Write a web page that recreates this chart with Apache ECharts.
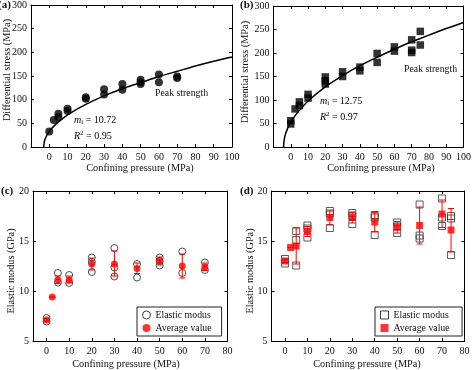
<!DOCTYPE html>
<html>
<head>
<meta charset="utf-8">
<script src="https://cdn.jsdelivr.net/npm/echarts@6/dist/echarts.min.js"></script>
<style>html,body{margin:0;padding:0;background:#fff}#c{width:474px;height:370px}</style>
</head>
<body>
<div id="c"></div>
<script>
// ---------- data ----------
// (a) peak strength, circles
const aPressure = [0, 2.5, 5, 5, 10, 10, 20, 20, 30, 30, 40, 40, 50, 50, 50, 60, 60, 70, 70];
const aStress   = [33, 57, 63, 70, 76, 81, 102, 105, 122, 111, 133, 121, 142, 137, 133, 153, 137, 149, 146];
const aCurveX = [-3.05, -2.8, -2.5, -2, -1, 0, 2, 5, 10, 20, 30, 40, 50, 60, 70, 80, 90, 100];
const aCurveY = [0, 9, 14, 19, 27, 33, 42, 53, 68, 90, 108, 123, 136, 149, 160, 171, 181, 190];
// (b) peak strength, squares
const bPressure = [0, 0, 2.5, 5, 5, 10, 10, 20, 20, 20, 30, 30, 40, 40, 50, 50, 60, 60, 70, 70, 70, 75, 75];
const bStress   = [56, 49, 81, 96, 88, 112, 104, 149, 141, 134, 160, 150, 170, 162, 199, 180, 213, 204, 228, 206, 201, 246, 217];
const bCurveX = [-4.15, -4, -3.5, -3, -2, -1, 0, 2, 5, 10, 20, 30, 40, 50, 60, 70, 80, 90, 100];
const bCurveY = [0, 10, 21, 28, 38, 46, 53, 64, 78, 98, 128, 152, 173, 191, 208, 224, 238, 252, 265];
// (c) elastic modulus, circles
const cPressure = [0, 0, 5, 5, 10, 10, 20, 20, 20, 30, 30, 30, 40, 40, 50, 50, 50, 60, 60, 70, 70];
const cModulus  = [7.3, 6.95, 11.8, 10.85, 11.6, 10.8, 13.35, 12.9, 11.9, 14.3, 12.35, 11.45, 12.7, 11.35, 13.35, 13.0, 12.55, 13.95, 11.8, 12.85, 12.1];
const cAvgPressure = [0, 2.5, 5, 10, 20, 30, 40, 50, 60, 70];
const cAvg     = [7.1, 9.4, 11.1, 11.1, 12.7, 12.7, 12.25, 13.0, 12.5, 12.4];
const cErrLow  = [6.95, 9.4, 10.75, 10.8, 12.1, 11.5, 11.75, 12.6, 11.3, 12.05];
const cErrHigh = [7.25, 9.4, 11.5, 11.5, 13.3, 14.0, 12.8, 13.4, 13.7, 12.8];
// (d) elastic modulus, squares
const dPressure = [0, 0, 5, 5, 5, 10, 10, 10, 20, 20, 20, 30, 30, 30, 40, 40, 40, 50, 50, 50, 60, 60, 60, 70, 70, 70, 74, 74, 74];
const dModulus  = [13.2, 12.75, 16.0, 15.1, 12.55, 16.55, 16.25, 15.35, 18.0, 17.75, 16.3, 17.8, 17.5, 16.7, 17.6, 17.35, 15.6, 16.85, 16.45, 15.8, 18.65, 15.55, 15.25, 19.25, 17.35, 16.5, 17.5, 17.25, 13.6];
const dAvgPressure = [0, 2.5, 5, 10, 20, 30, 40, 50, 60, 70, 74];
const dAvg     = [13.0, 14.35, 14.5, 15.95, 17.35, 17.4, 16.9, 16.4, 16.55, 17.7, 16.1];
const dErrLow  = [12.8, 14.35, 12.7, 15.45, 16.6, 16.8, 15.9, 15.8, 14.7, 16.35, 13.9];
const dErrHigh = [13.2, 14.35, 16.3, 16.45, 18.0, 17.9, 17.85, 16.95, 18.4, 19.1, 18.25];
// tick labels
const ticksAB = [0, 10, 20, 30, 40, 50, 60, 70, 80, 90, 100];
const ticksCD = [0, 10, 20, 30, 40, 50, 60, 70, 80];

// ---------- chart ----------
const FF = "'Liberation Serif', 'DejaVu Serif', serif";
const zip = (xs, ys) => xs.map((x, i) => [x, ys[i]]);
const grids = [
  {left: 31, top: 5, width: 201, height: 142},
  {left: 273.5, top: 6, width: 192.5, height: 141},
  {left: 33, top: 191, width: 194.5, height: 150},
  {left: 271.5, top: 191, width: 193, height: 150}
];
const xAxes = [], yAxes = [];
function addAxes(gi, xmin, xmax, xt, ymin, ymax, yint) {
  const line = {onZero: false, lineStyle: {color: '#000', width: 1}};
  const tick = {inside: true, length: 3, lineStyle: {color: '#000'}};
  xAxes.push({gridIndex: gi, type: 'value', min: xmin, max: xmax, position: 'bottom',
    axisLine: line, axisTick: Object.assign({customValues: xt}, tick),
    axisLabel: {customValues: xt, fontFamily: FF, fontSize: 10, color: '#111', margin: 5},
    splitLine: {show: false}});
  xAxes.push({gridIndex: gi, type: 'value', min: xmin, max: xmax, position: 'top',
    axisLine: line, axisTick: Object.assign({customValues: xt}, tick),
    axisLabel: {show: false}, splitLine: {show: false}});
  yAxes.push({gridIndex: gi, type: 'value', min: ymin, max: ymax, interval: yint, position: 'left',
    axisLine: line, axisTick: tick,
    axisLabel: {fontFamily: FF, fontSize: 10, color: '#111', margin: 4},
    splitLine: {show: false}});
  yAxes.push({gridIndex: gi, type: 'value', min: ymin, max: ymax, interval: yint, position: 'right',
    axisLine: line, axisTick: tick, axisLabel: {show: false}, splitLine: {show: false}});
}
addAxes(0, -10, 100, ticksAB, 0, 300, 50);
addAxes(1, -10, 100, ticksAB, 0, 300, 50);
addAxes(2, -6, 80, ticksCD, 5, 20, 5);
addAxes(3, -6, 80, ticksCD, 5, 20, 5);

function errSeries(gi, xs, lo, hi) {
  return {type: 'custom', xAxisIndex: gi * 2, yAxisIndex: gi * 2, z: 3,
    data: xs.map((x, i) => [x, lo[i], hi[i]]),
    renderItem: function (params, api) {
      const a = api.coord([api.value(0), api.value(1)]);
      const b = api.coord([api.value(0), api.value(2)]);
      const st = {stroke: '#f00', lineWidth: 1};
      return {type: 'group', children: [
        {type: 'line', shape: {x1: a[0], y1: a[1], x2: b[0], y2: b[1]}, style: st},
        {type: 'line', shape: {x1: a[0] - 3, y1: a[1], x2: a[0] + 3, y2: a[1]}, style: st},
        {type: 'line', shape: {x1: b[0] - 3, y1: b[1], x2: b[0] + 3, y2: b[1]}, style: st}
      ]};
    }};
}

const txt = {fontFamily: FF, fill: '#111'};
function gtext(x, y, s, extra) {
  return {type: 'text', x: x, y: y, style: Object.assign({text: s, fontSize: 10.3, textVerticalAlign: 'middle', textAlign: 'left'}, txt, extra || {})};
}
function rot(x, y, s) {
  return {type: 'text', x: x, y: y, rotation: Math.PI / 2,
    style: Object.assign({text: s, fontSize: 10.3, textAlign: 'center', textVerticalAlign: 'middle'}, txt)};
}
const richMI = {
  it: {fontFamily: FF, fontSize: 10, fontStyle: 'italic', color: '#111'},
  sub: {fontFamily: FF, fontSize: 7, color: '#111', verticalAlign: 'bottom', padding: [5, 0, 0, 0]},
  sup: {fontFamily: FF, fontSize: 7, color: '#111', verticalAlign: 'top', padding: [0, 0, 5, 0]},
  n: {fontFamily: FF, fontSize: 10, color: '#111'}
};
function rtext(x, y, s) {
  return {type: 'text', x: x, y: y, style: {text: s, rich: richMI, textVerticalAlign: 'middle', textAlign: 'left'}};
}

const legendCommon = {orient: 'vertical', borderColor: '#222', borderWidth: 1, padding: [3, 10, 3, 5],
  itemWidth: 8, itemHeight: 8, itemGap: 3, backgroundColor: '#fff', selectedMode: false,
  textStyle: {fontFamily: FF, fontSize: 9.8, color: '#111'}};

const option = {
  backgroundColor: '#fff',
  animation: false,
  grid: grids,
  xAxis: xAxes,
  yAxis: yAxes,
  legend: [
    Object.assign({left: 137, top: 307, data: [
      {name: 'Elastic modus', icon: 'circle', itemStyle: {color: '#fff', borderColor: '#111', borderWidth: 1}},
      {name: 'Average value', icon: 'circle', itemStyle: {color: '#f00'}}]}, legendCommon),
    Object.assign({left: 375, top: 307, data: [
      {name: 'Elastic modus ', icon: 'rect', itemStyle: {color: '#fff', borderColor: '#111', borderWidth: 1}},
      {name: 'Average value ', icon: 'rect', itemStyle: {color: '#f00'}}]}, legendCommon)
  ],
  series: [
    {type: 'line', xAxisIndex: 0, yAxisIndex: 0, data: zip(aCurveX, aCurveY), smooth: 0.3, showSymbol: false,
      lineStyle: {color: '#000', width: 1.5}, clip: true, z: 2},
    {type: 'scatter', xAxisIndex: 0, yAxisIndex: 0, data: zip(aPressure, aStress), symbol: 'circle', symbolSize: 8,
      itemStyle: {color: '#000'}, z: 3},
    {type: 'line', xAxisIndex: 2, yAxisIndex: 2, data: zip(bCurveX, bCurveY), smooth: 0.3, showSymbol: false,
      lineStyle: {color: '#000', width: 1.5}, clip: true, z: 2},
    {type: 'scatter', xAxisIndex: 2, yAxisIndex: 2, data: zip(bPressure, bStress), symbol: 'rect', symbolSize: 7.5,
      itemStyle: {color: '#000'}, z: 3},
    {name: 'Elastic modus', type: 'scatter', xAxisIndex: 4, yAxisIndex: 4, data: zip(cPressure, cModulus),
      symbol: 'circle', symbolSize: 7, itemStyle: {color: 'rgba(255,255,255,0)', borderColor: '#222', borderWidth: 1}, z: 2},
    errSeries(2, cAvgPressure, cErrLow, cErrHigh),
    {name: 'Average value', type: 'scatter', xAxisIndex: 4, yAxisIndex: 4, data: zip(cAvgPressure, cAvg),
      symbol: 'circle', symbolSize: 7, itemStyle: {color: '#f00'}, z: 4},
    {name: 'Elastic modus ', type: 'scatter', xAxisIndex: 6, yAxisIndex: 6, data: zip(dPressure, dModulus),
      symbol: 'rect', symbolSize: 7, itemStyle: {color: 'rgba(255,255,255,0)', borderColor: '#333', borderWidth: 1}, z: 2},
    errSeries(3, dAvgPressure, dErrLow, dErrHigh),
    {name: 'Average value ', type: 'scatter', xAxisIndex: 6, yAxisIndex: 6, data: zip(dAvgPressure, dAvg),
      symbol: 'rect', symbolSize: 7, itemStyle: {color: '#f00'}, z: 4}
  ],
  graphic: [
    gtext(-2, 5, '(a)', {fontWeight: 'bold', fontSize: 11}),
    gtext(240, 5, '(b)', {fontWeight: 'bold', fontSize: 11}),
    gtext(1, 191, '(c)', {fontWeight: 'bold', fontSize: 11}),
    gtext(240, 191, '(d)', {fontWeight: 'bold', fontSize: 11}),
    rot(7, 70, 'Differential stress (MPa)'),
    rot(245, 72, 'Differential stress (MPa)'),
    rot(11, 271, 'Elastic modus (GPa)'),
    rot(250, 271, 'Elastic modus (GPa)'),
    gtext(140, 168, 'Confining pressure (MPa)', {textAlign: 'center'}),
    gtext(381, 168, 'Confining pressure (MPa)', {textAlign: 'center'}),
    gtext(126, 364, 'Confining pressure (MPa)', {textAlign: 'center'}),
    gtext(367, 364, 'Confining pressure (MPa)', {textAlign: 'center'}),
    gtext(155, 93, 'Peak strength', {fontSize: 9.8}),
    gtext(404, 69, 'Peak strength', {fontSize: 9.8}),
    rtext(74, 120, '{it|m}{sub|i}{n| = 10.72}'),
    rtext(74, 136, '{it|R}{sup|2}{n| = 0.95}'),
    rtext(320, 101, '{it|m}{sub|i}{n| = 12.75}'),
    rtext(320, 117, '{it|R}{sup|2}{n| = 0.97}')
  ]
};
const chart = echarts.init(document.getElementById('c'), null, {renderer: 'canvas'});
chart.setOption(option);
</script>
</body>
</html>
